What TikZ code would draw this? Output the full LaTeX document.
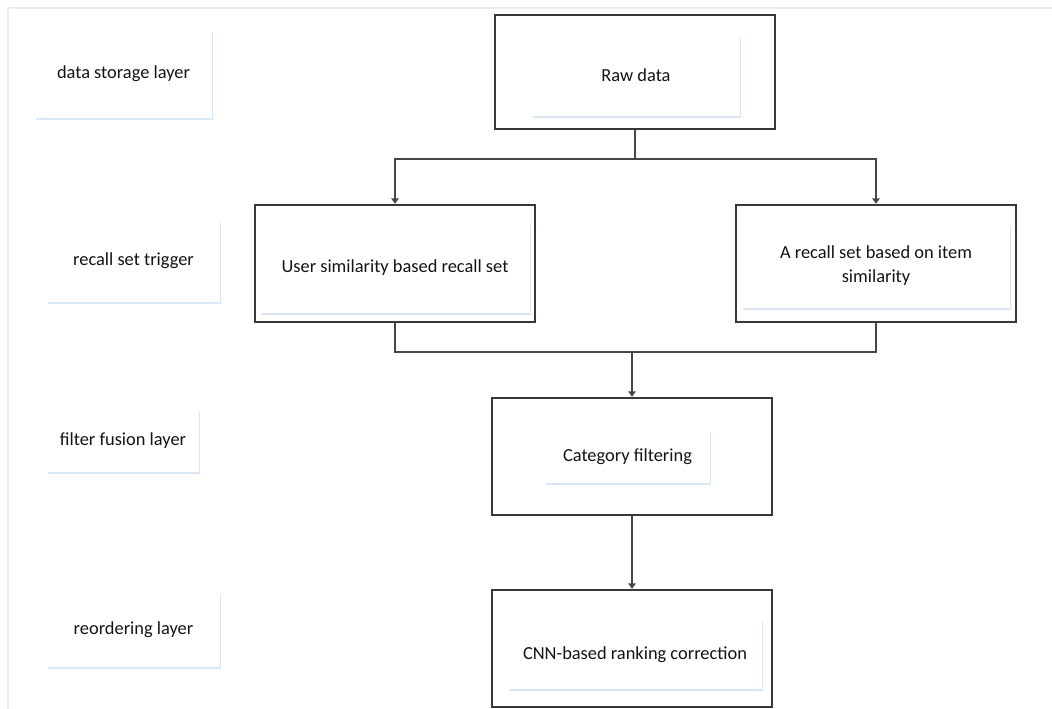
\documentclass[tikz,border=0pt]{standalone}
\usepackage{fontspec}
\setmainfont{Carlito}
\usepackage{tikz}
\usetikzlibrary{arrows.meta,shadows}
\definecolor{shadeblue}{HTML}{D6E4F5}

\begin{document}
\begin{tikzpicture}[x=0.75pt,y=-0.75pt,font=\fontsize{13.8pt}{16pt}\selectfont,
  mainbox/.style n args={2}{draw=black!78,line width=1.8pt,fill=white,minimum width=#1*0.75pt,minimum height=#2*0.75pt,inner sep=0pt},
  softbox/.style n args={2}{fill=white,minimum width=#1*0.75pt,minimum height=#2*0.75pt,inner sep=0pt,text=black!92,
    drop shadow={shadow xshift=0.6pt,shadow yshift=-1.2pt,fill=shadeblue,opacity=0.9}},
  link/.style={draw=black!72,line width=1.1pt},
  arr/.style={link,-{Triangle[length=4pt,width=5.5pt]}}]
\useasboundingbox (0,0) rectangle (1052,709);
% faint outer frame
\draw[black!7,line width=0.8pt] (8,709) -- (8,8) -- (1052,8);
% layer labels
\node[softbox={177}{88}] (lstore) at (123.5,74) {data storage layer};
\node[softbox={173}{82}] (ltrig) at (133.5,261) {recall set trigger};
\node[softbox={152}{62}] (lfuse) at (123,441) {filter fusion layer};
\node[softbox={173}{75}] (lreord) at (133.5,629.5) {reordering layer};
% main boxes
\node[mainbox={280}{114}] (raw) at (635,72) {};
\node[mainbox={280}{117}] (usim) at (395,263.5) {};
\node[mainbox={280}{117}] (isim) at (876,263.5) {};
\node[mainbox={280}{117}] (catf) at (632,456.5) {};
\node[mainbox={280}{117}] (cnn) at (632,648.5) {};
% texts in inner boxes
\node[softbox={208}{81}] (rawtxt) at (636,75.5) {Raw data};
\node[softbox={270}{90}] (usimtxt) at (395,268) {User similarity based recall set};
\node[softbox={268}{84}] (isimtxt) at (876,266) {\begin{tabular}{@{}c@{}}A recall set based on item\\[2pt] similarity\end{tabular}};
\node[softbox={165}{53}] (catftxt) at (627.5,456.5) {Category filtering};
\node[softbox={254}{69}] (cnntxt) at (635,654.5) {CNN-based ranking correction};
% connectors
\coordinate (split) at (635,159);
\coordinate (merge) at (632,352);
\draw[link] (raw.south) -- (split);
\draw[arr] (split) -| (usim.north);
\draw[arr] (split) -| (isim.north);
\draw[link] (usim.south) |- (merge) -| (isim.south);
\draw[arr] (merge) -- (catf.north);
\draw[arr] (catf.south) -- (cnn.north);
\end{tikzpicture}
\end{document}
